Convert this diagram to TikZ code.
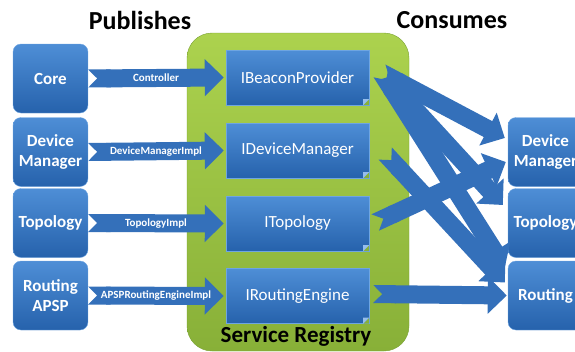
\documentclass[tikz,border=0pt]{standalone}
\usepackage{fontspec}
\setmainfont{Carlito}
\usetikzlibrary{
  arrows.meta,
  positioning
}
\definecolor{boxtop}{RGB}{78,142,214}
\definecolor{boxbot}{RGB}{38,98,172}
\definecolor{boxedge}{RGB}{110,165,225}
\definecolor{foldcol}{RGB}{150,190,235}
\definecolor{regtop}{RGB}{172,210,78}
\definecolor{regbot}{RGB}{136,176,56}
\definecolor{regedge}{RGB}{120,160,50}
\definecolor{arrowblue}{RGB}{52,112,186}

\begin{document}
\begin{tikzpicture}[x=1pt, y=-1pt,
    pubbox/.style={draw=boxedge, top color=boxtop, bottom color=boxbot, rounded corners=8pt,
      minimum width=75pt, minimum height=69pt, text=white, align=center,
      font=\fontsize{17}{20}\selectfont\bfseries},
    ifacebox/.style={draw=boxedge, top color=boxtop, bottom color=boxbot,
      minimum width=143pt, minimum height=55pt, text=white,
      font=\fontsize{17}{20}\selectfont},
    regbox/.style={draw=regedge, top color=regtop, bottom color=regbot, rounded corners=25pt,
      minimum width=222pt, minimum height=318pt},
    link/.style={line width=18pt, color=arrowblue,
      arrows={Triangle Cap[reversed]-Triangle[length=19pt,width=36pt]}},
    linklabel/.style={text=white, font=\fontsize{11}{13}\selectfont\bfseries},
    heading/.style={font=\fontsize{26}{30}\selectfont\bfseries}]
    \clip (0,0) rectangle (575,351);

    % Titles
    \node[heading] (pubtitle) at (140,20) {Publishes};
    \node[heading] (contitle) at (452,20) {Consumes};

    % Service registry
    \node[regbox] (registry) at (298,192) {};
    \node[font=\fontsize{23}{26}\selectfont\bfseries] (regtitle) at (296,336) {Service Registry};

    % Publishers
    \node[pubbox] (core) at (50.5,78.5) {Core};
    \node[pubbox] (devmgr) at (50.5,152) {Device\\Manager};
    \node[pubbox] (topo) at (50.5,223) {Topology};
    \node[pubbox] (routing) at (50.5,295.5) {Routing\\APSP};

    % Interfaces
    \node[ifacebox] (bprov) at (297.5,77.5) {IBeaconProvider};
    \node[ifacebox] (idevmgr) at (297.5,150.5) {IDeviceManager};
    \node[ifacebox] (itopo) at (297.5,223.5) {ITopology};
    \node[ifacebox] (iroute) at (297.5,296) {IRoutingEngine};
    \foreach \n in {bprov, idevmgr, itopo, iroute} {
      \fill[regbot] ([xshift=-6pt]\n.south east) -- (\n.south east) -- ([yshift=6pt]\n.south east) -- cycle;
      \fill[foldcol] ([xshift=-6pt]\n.south east) -- ([yshift=6pt]\n.south east) -- ([xshift=-6pt,yshift=6pt]\n.south east) -- cycle;
    }

    % Consumers
    \node[pubbox] (cdevmgr) at (545.5,152) {Device\\Manager};
    \node[pubbox] (ctopo) at (545.5,223) {Topology};
    \node[pubbox] (crouting) at (545.5,295.5) {Routing};

    % Publish links
    \draw[link] (core.east) -- node[linklabel] {Controller} ([xshift=-2pt]bprov.west);
    \draw[link] (devmgr.east) -- node[linklabel] {DeviceManagerImpl} ([xshift=-2pt]idevmgr.west);
    \draw[link] (topo.east) -- node[linklabel] {TopologyImpl} ([xshift=-2pt]itopo.west);
    \draw[link] (routing.east) -- node[linklabel] {APSPRoutingEngineImpl} ([xshift=-2pt]iroute.west);

    % Consume links
    \draw[link] ([xshift=12pt,yshift=5pt]bprov.east) -- ([xshift=-3pt,yshift=28pt]crouting.west);
    \draw[link] ([xshift=12pt,yshift=5pt]bprov.east) -- ([xshift=-5pt,yshift=18pt]ctopo.west);
    \draw[link] ([xshift=12pt,yshift=5pt]bprov.east) -- ([xshift=-3pt,yshift=14pt]cdevmgr.west);
    \draw[link] ([xshift=16pt,yshift=-3pt]idevmgr.east) -- ([xshift=-3pt,yshift=13pt]crouting.west);
    \draw[link] ([xshift=6pt,yshift=1pt]itopo.east) -- ([xshift=-2pt,yshift=-10pt]cdevmgr.west);
    \draw[link] ([xshift=4pt,yshift=2pt]iroute.east) -- ([xshift=-1pt]crouting.west);
  \end{tikzpicture}
\end{document}
